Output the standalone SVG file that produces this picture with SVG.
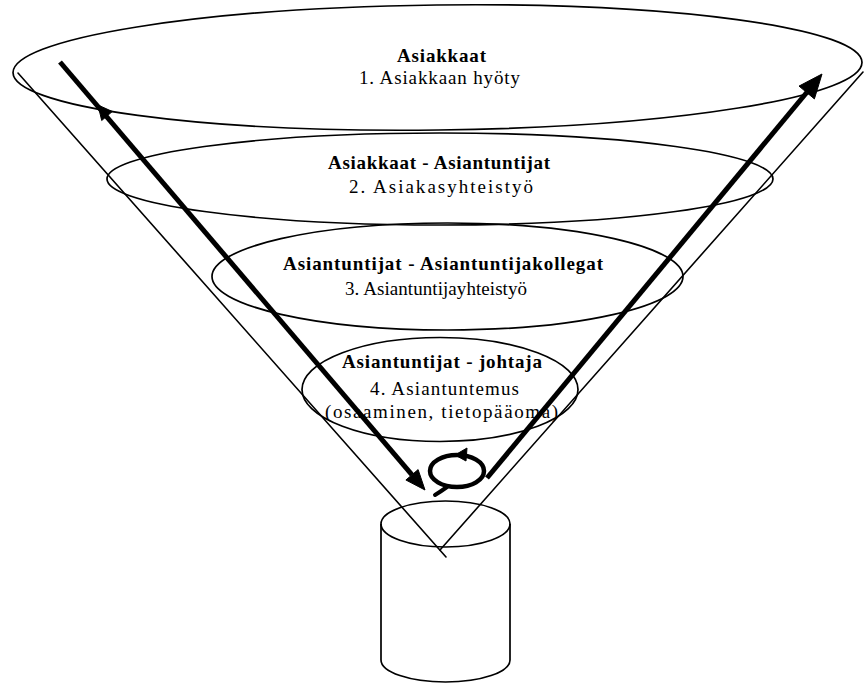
<svg xmlns="http://www.w3.org/2000/svg" width="864" height="684" viewBox="0 0 864 684">
  <style>
    .ring { fill: none; stroke: #000; stroke-width: 1.7; }
    .thin { fill: none; stroke: #000; stroke-width: 1.6; stroke-linecap: round; }
    .thick { fill: none; stroke: #000; stroke-width: 5; stroke-linecap: butt; }
    .head { fill: #000; stroke: #000; stroke-width: 1; stroke-linejoin: round; }
    .title { font-family: "Liberation Serif", "Times New Roman", serif; font-size: 19px; font-weight: bold; fill: #000; }
    .label { font-family: "Liberation Serif", "Times New Roman", serif; font-size: 19px; fill: #000; }
  </style>

  <rect width="864" height="684" fill="#fff"/>

  <!-- funnel sides meeting at the tip above the store -->
  <g id="funnel">
    <line class="thin" x1="18" y1="73" x2="446" y2="557"/>
    <line class="thin" x1="863" y1="72" x2="440" y2="550"/>
  </g>

  <!-- level 1: customers -->
  <g id="level1">
    <ellipse class="ring" cx="437.5" cy="67.5" rx="424.5" ry="62.5" transform="rotate(-0.7 437.5 67.5)"/>
    <text class="title" x="397" y="62" textLength="89" lengthAdjust="spacing">Asiakkaat</text>
    <text class="label" x="359" y="84" textLength="161" lengthAdjust="spacing">1. Asiakkaan hyöty</text>
  </g>

  <!-- level 2: customers and experts -->
  <g id="level2">
    <ellipse class="ring" cx="440" cy="179" rx="333" ry="46"/>
    <text class="title" x="328" y="169" textLength="222" lengthAdjust="spacing">Asiakkaat - Asiantuntijat</text>
    <text class="label" x="349" y="193" textLength="184" lengthAdjust="spacing">2. Asiakasyhteistyö</text>
  </g>

  <!-- level 3: experts and colleagues -->
  <g id="level3">
    <ellipse class="ring" cx="447.5" cy="276.5" rx="235.5" ry="53.5"/>
    <text class="title" x="283" y="270" textLength="320" lengthAdjust="spacing">Asiantuntijat - Asiantuntijakollegat</text>
    <text class="label" x="345" y="295" textLength="182" lengthAdjust="spacing">3. Asiantuntijayhteistyö</text>
  </g>

  <!-- level 4: experts and manager -->
  <g id="level4">
    <ellipse class="ring" cx="440" cy="389.5" rx="138" ry="52"/>
    <text class="title" x="342" y="368" textLength="200" lengthAdjust="spacing">Asiantuntijat - johtaja</text>
    <text class="label" x="370" y="395" textLength="149" lengthAdjust="spacing">4. Asiantuntemus</text>
    <text class="label" x="325" y="418" textLength="233" lengthAdjust="spacing">(osaaminen, tietopääoma)</text>
  </g>

  <!-- knowledge store -->
  <g id="store">
    <ellipse class="ring" cx="445.5" cy="524" rx="64.5" ry="23"/>
    <path class="ring" d="M381 524 V660 A64.5 22 0 0 0 510 660 V524"/>
  </g>

  <!-- flow arrows and the cycle at the bottom -->
  <g id="connectors">
    <!-- downward flow -->
    <line class="thick" x1="60" y1="62" x2="412" y2="474.8"/>
    <polygon class="head" points="425,490 418.1,469.6 405.9,480"/>
    <polygon class="head" points="98,105 112.3,111.5 101.7,120.5"/>

    <!-- upward flow -->
    <line class="thick" x1="487" y1="478" x2="806.7" y2="92.5"/>
    <polygon class="head" points="822,74 814.4,98.9 799,86.1"/>

    <!-- cycle -->
    <ellipse cx="457" cy="471" rx="27" ry="16" fill="none" stroke="#000" stroke-width="4.5"/>
    <path d="M447 487 Q440 492 435 495" fill="none" stroke="#000" stroke-width="4" stroke-linecap="round"/>
    <polygon class="head" points="455,455 467,448 466,461"/>
  </g>
</svg>
